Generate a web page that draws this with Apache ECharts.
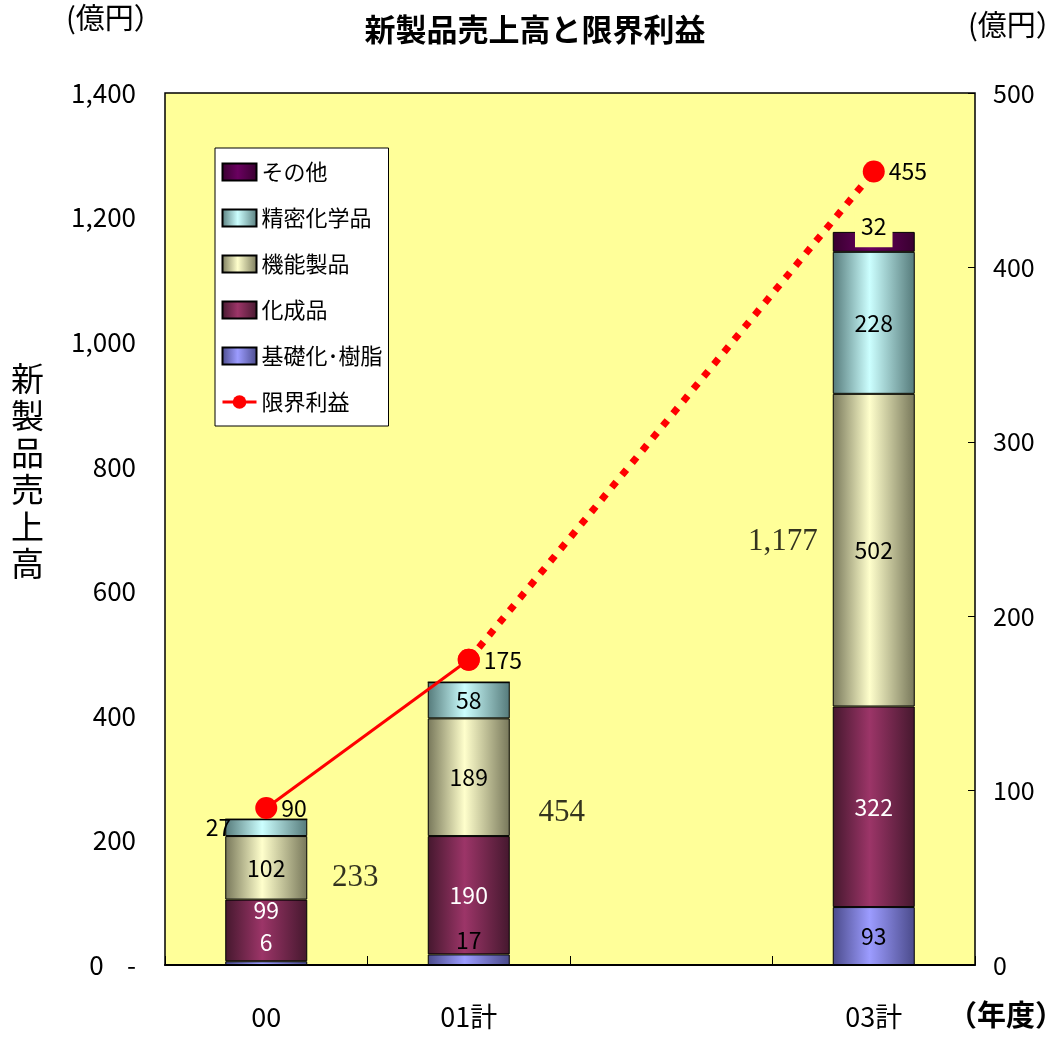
<!DOCTYPE html>
<html><head><meta charset="utf-8">
<script src="https://cdn.jsdelivr.net/npm/echarts@6/dist/echarts.min.js"></script>
<style>html,body{margin:0;padding:0;background:#fff}#c{width:1048px;height:1038px}</style>
</head><body><div id="c"></div>
<script>
const categories = ['00', '01計', '', '03計'];
const kiso = [6, 17, null, 93];
const kasei = [99, 190, null, 322];
const kinou = [102, 189, null, 502];
const seimitsu = [27, 58, null, 228];
const sonota = [0, 0, null, 32];
const totals = [233, 454, null, 1177];
const genkai = [90, 175, null, 455];
const leftTicks = { min: 0, max: 1400, interval: 200 };
const rightTicks = { min: 0, max: 500, interval: 100 };

const NARROW = "'Noto Sans CJK JP', sans-serif";
const CJK = "'Noto Sans CJK JP', sans-serif";

function grad(edge, mid) {
  return new echarts.graphic.LinearGradient(0, 0, 1, 0, [
    { offset: 0, color: edge }, { offset: 0.45, color: mid }, { offset: 1, color: edge }
  ]);
}

const chart = echarts.init(document.getElementById('c'), null, { renderer: 'canvas' });

function barSeries(name, data, edge, mid, labelColor, perItem) {
  return {
    name, type: 'bar', stack: 'total', barWidth: 82,
    itemStyle: { color: grad(edge, mid), borderColor: '#000', borderWidth: 1 },
    label: { show: true, position: 'inside', fontSize: 23, fontFamily: NARROW, color: labelColor,
      formatter: p => (p.value ? String(p.value) : '') },
    data: data.map((v, i) => {
      const o = { value: v };
      if (perItem && perItem[i]) o.label = perItem[i];
      if (!v) o.label = { show: false };
      return o;
    })
  };
}

const series = [
  barSeries('基礎化･樹脂', kiso, '#4a4a8a', '#9c9cff', '#000', {
    0: { position: 'top', distance: 7, color: '#fff' },
    1: { position: 'top', distance: 3 }
  }),
  barSeries('化成品', kasei, '#45182e', '#9c3568', '#fff', { 0: { offset: [0, -20] } }),
  barSeries('機能製品', kinou, '#77775a', '#ffffcc', '#000'),
  barSeries('精密化学品', seimitsu, '#557a7a', '#ccffff', '#000', {
    0: { position: 'left', distance: -6 }
  }),
  barSeries('その他', sonota, '#38002f', '#6a0060', '#000', {
    3: { position: 'inside', offset: [0, -16], backgroundColor: '#FFFF99', padding: [10, 6, 10, 6] }
  }),
  {
    name: '限界利益', type: 'line', yAxisIndex: 1, z: 5,
    symbol: 'circle', symbolSize: 22,
    itemStyle: { color: '#ff0000' },
    lineStyle: { color: '#ff0000', width: 3 },
    label: { show: true, position: 'right', distance: 4, fontSize: 23, fontFamily: NARROW, color: '#000' },
    data: genkai.map((v, i) => (i <= 1 ? v : null))
  },
  {
    name: '限界利益', type: 'line', yAxisIndex: 1, z: 4, connectNulls: true,
    symbol: 'circle', symbolSize: 22,
    itemStyle: { color: '#ff0000' },
    lineStyle: { color: '#ff0000', width: 7, type: [7, 9], cap: 'butt' },
    data: genkai.map((v, i) => (i >= 1 ? { value: v, label: { show: i === 3, position: 'right', distance: 4, fontSize: 23, fontFamily: NARROW, color: '#000' } } : null))
  },
  {
    name: 'totals', type: 'scatter', symbolSize: 0, silent: true, z: 6,
    label: { show: true, fontSize: 31, fontFamily: "'Liberation Serif', serif", color: '#000',
      formatter: p => totals[p.dataIndex].toLocaleString('en-US') },
    data: totals.map((t, i) => {
      const offs = [[89, -15], [93, -11], null, [-91, -57]];
      return t === null ? null : { value: [categories[i], t / 2], label: { offset: offs[i] } };
    })
  }
];

const legendIconRect = { icon: 'rect' };
chart.setOption({
  animation: false,
  backgroundColor: '#ffffff',
  grid: { left: 165, right: 73, top: 93, bottom: 73, show: true, backgroundColor: '#FFFF99', borderColor: '#000', borderWidth: 1.5 },
  legend: {
    orient: 'vertical', left: 215, top: 148, backgroundColor: '#fff', borderColor: '#000', borderWidth: 1,
    padding: [12, 6, 12, 6], itemWidth: 34, itemHeight: 17, itemGap: 22,
    textStyle: { fontSize: 22, fontFamily: CJK, color: '#000', lineHeight: 24 },
    data: [
      Object.assign({ name: 'その他' }, legendIconRect),
      Object.assign({ name: '精密化学品' }, legendIconRect),
      Object.assign({ name: '機能製品' }, legendIconRect),
      Object.assign({ name: '化成品' }, legendIconRect),
      Object.assign({ name: '基礎化･樹脂' }, legendIconRect),
      { name: '限界利益', lineStyle: { width: 3, type: 'solid' } }
    ]
  },
  xAxis: {
    type: 'category', data: categories,
    axisLine: { show: true, lineStyle: { color: '#000', width: 2 } },
    axisTick: { show: true, inside: true, length: 9, interval: 0, lineStyle: { color: '#000' } },
    axisLabel: { margin: 38, fontSize: 27, fontFamily: NARROW, color: '#000', interval: 0 },
    splitLine: { show: false }
  },
  yAxis: [
    {
      type: 'value', min: leftTicks.min, max: leftTicks.max, interval: leftTicks.interval,
      axisLine: { show: false }, axisTick: { show: false }, splitLine: { show: false },
      axisLabel: { margin: 29, fontSize: 26, fontFamily: NARROW, color: '#000',
        formatter: v => (v === 0 ? '0    -' : v.toLocaleString('en-US')) }
    },
    {
      type: 'value', position: 'right', min: rightTicks.min, max: rightTicks.max, interval: rightTicks.interval,
      axisLine: { show: false }, axisTick: { show: true, inside: true, length: 7, lineStyle: { color: '#000' } },
      splitLine: { show: false },
      axisLabel: { margin: 18, fontSize: 25, fontFamily: NARROW, color: '#000' }
    }
  ],
  graphic: [
    { type: 'text', x: 535, y: 14, style: { text: '新製品売上高と限界利益', font: "bold 31px 'Noto Sans CJK JP'", fill: '#000', textAlign: 'center' } },
    { type: 'text', x: 66, y: 3, style: { text: '(億円）', font: "29px 'Noto Sans CJK JP'", fill: '#000' } },
    { type: 'text', x: 968, y: 10, style: { text: '(億円）', font: "29px 'Noto Sans CJK JP'", fill: '#000' } },
    { type: 'text', x: 11, y: 360, style: { text: '新\n製\n品\n売\n上\n高', font: "33px 'Noto Sans CJK JP'", lineHeight: 37, fill: '#000' } },
    { type: 'text', x: 948, y: 1000, style: { text: '（年度）', font: "bold 29px 'Noto Sans CJK JP'", fill: '#000' } }
  ],
  series
});
</script></body></html>
